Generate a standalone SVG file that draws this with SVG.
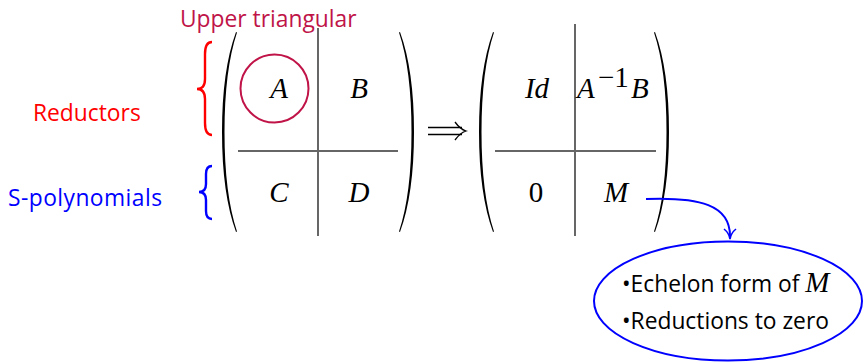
<svg xmlns="http://www.w3.org/2000/svg" width="864" height="362" viewBox="0 0 864 362">
<style>
.m{font-family:"Liberation Serif",serif;font-style:italic;font-size:29px;fill:#000}
.r{font-family:"Liberation Serif",serif;font-style:normal;font-size:29px;fill:#000}
.s{font-family:"Open Sans","Noto Sans",sans-serif;font-size:22.8px}
.par{fill:#000}
.vl{stroke:#000;stroke-width:1.2}
.hl{stroke:#666;stroke-width:2}
</style>
<rect width="864" height="362" fill="#fff"/>
<g id="labels">
<text class="s" x="180" y="27" fill="#C01448">Upper triangular</text>
<text class="s" x="33" y="121" fill="#ff0000">Reductors</text>
<text class="s" x="8" y="206" fill="#0000ff" textLength="154">S-polynomials</text>
</g>
<g id="braces" fill="none" stroke-width="2.4">
<path d="M212,42 Q205,42 205,54 L205,79 Q205,89 197,89 Q205,89 205,99 L205,123 Q205,135 212,135" stroke="#ff0000"/>
<path d="M212,166 Q206,166 206,174 L206,184 Q206,192 199,192 Q206,192 206,200 L206,211 Q206,219 212,219" stroke="#0000ff"/>
</g>
<g id="matrix-left">
<path class="par" d="M236,32 Q222,70 222,132 Q222,194 236,232 L237,231.5 Q224.5,194 224.5,132 Q224.5,70 237,32.5 Z"/>
<path class="par" d="M400,32 Q414,70 414,132 Q414,194 400,232 L399,231.5 Q411.5,194 411.5,132 Q411.5,70 399,32.5 Z"/>
<line class="vl" x1="318" y1="28" x2="318" y2="236"/>
<line class="hl" x1="238" y1="151" x2="398" y2="151"/>
<circle cx="274.5" cy="88.5" r="34" fill="none" stroke="#C01448" stroke-width="2"/>
<text class="m" x="279" y="98" text-anchor="middle">A</text>
<text class="m" x="359" y="98" text-anchor="middle">B</text>
<text class="m" x="279" y="202" text-anchor="middle">C</text>
<text class="m" x="359" y="202" text-anchor="middle">D</text>
</g>
<g id="implies" fill="none" stroke="#000" stroke-width="1.3">
<line x1="428" y1="127.5" x2="462" y2="127.5"/>
<line x1="428" y1="134.5" x2="462" y2="134.5"/>
<path d="M455,122 Q460,129 466,131 Q460,133 455,140"/>
</g>
<g id="matrix-right">
<path class="par" d="M493,32 Q479,70 479,132 Q479,194 493,232 L494,231.5 Q481.5,194 481.5,132 Q481.5,70 494,32.5 Z"/>
<path class="par" d="M655,32 Q669,70 669,132 Q669,194 655,232 L654,231.5 Q666.5,194 666.5,132 Q666.5,70 654,32.5 Z"/>
<line class="vl" x1="575" y1="24" x2="575" y2="236"/>
<line class="hl" x1="495" y1="151" x2="656" y2="151"/>
<text class="m" x="537" y="98" text-anchor="middle">Id</text>
<text class="m" x="577" y="98">A<tspan class="r" font-size="19" x="598" y="87">−1</tspan><tspan x="631" y="98">B</tspan></text>
<text class="r" x="536" y="202" text-anchor="middle">0</text>
<text class="m" x="616" y="202" text-anchor="middle">M</text>
</g>
<g id="connectors" fill="none" stroke="#0000ff" stroke-width="2">
<path d="M646,199 C700,197 730,205 730,236"/>
<path d="M724,229 Q729,233 730,239 Q731,233 736,229" stroke-width="1.6"/>
</g>
<g id="result">
<ellipse cx="728" cy="301" rx="134" ry="59.5" fill="none" stroke="#0000ff" stroke-width="2"/>
<text class="s" x="622" y="292" fill="#000">•Echelon form of <tspan class="m" font-size="24">M</tspan></text>
<text class="s" x="622" y="329" fill="#000">•Reductions to zero</text>
</g>
</svg>
